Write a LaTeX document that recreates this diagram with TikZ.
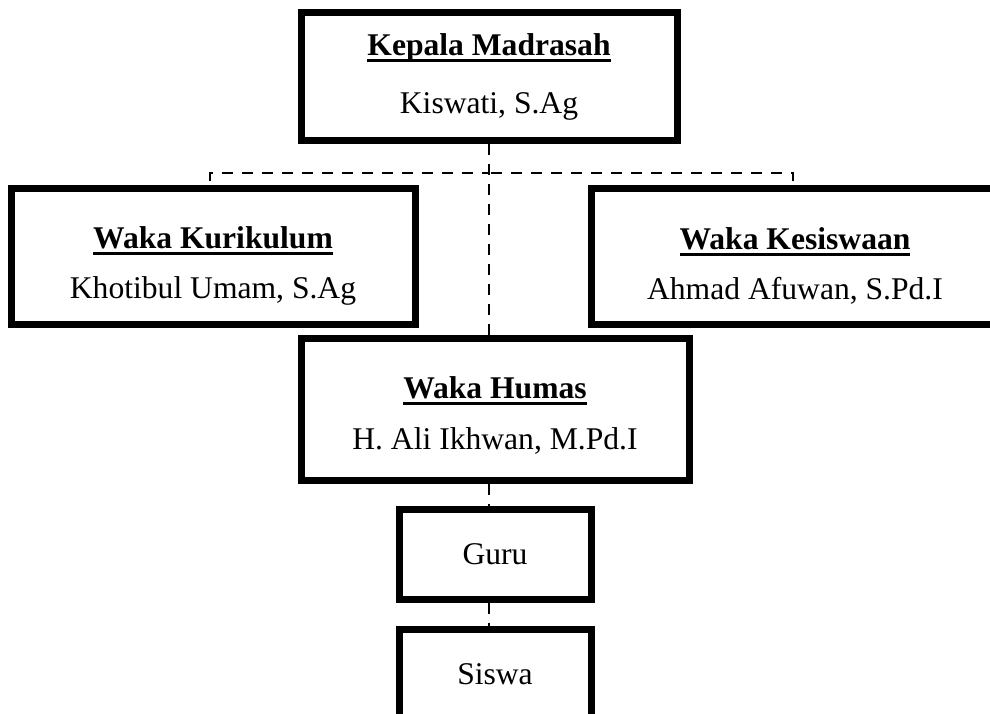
\documentclass[tikz,border=0pt]{standalone}
\usepackage{fontspec}
\setmainfont{Liberation Serif}
\usetikzlibrary{positioning}

\newcommand{\headtext}[1]{\setbox0\hbox{\bfseries #1}\rlap{\rule[-3pt]{\wd0}{1.5pt}}\box0}

\begin{document}
\begin{tikzpicture}[x=0.5pt,y=0.5pt,node distance=11pt,
    unit/.style={draw,line width=3.5pt,fill=white,align=center,
        font=\fontsize{15.8}{19}\selectfont},
    link/.style={line width=1.3pt,dash pattern=on 5.5pt off 4.5pt}]

    \useasboundingbox (0,0) rectangle (990,713);
    \clip (0,0) rectangle (990,713);

    \node[unit,minimum width=188pt,minimum height=64pt] (kepala) at (489,636)
        {\headtext{Kepala Madrasah}\\[10pt] Kiswati, S.Ag};

    \node[unit,minimum width=202pt,minimum height=68pt] (kurikulum) at (213,456)
        {\rule{0pt}{20pt}\headtext{Waka Kurikulum}\\[6pt] Khotibul Umam, S.Ag};

    \node[unit,minimum width=204pt,minimum height=68pt] (kesiswaan) at (795,456)
        {\rule{0pt}{20pt}\headtext{Waka Kesiswaan}\\[6pt] Ahmad Afuwan, S.Pd.I};

    \node[unit,minimum width=194pt,minimum height=70.5pt] (humas) at (495,303.5)
        {\rule{0pt}{17pt}\headtext{Waka Humas}\\[6.5pt] H. Ali Ikhwan, M.Pd.I};

    \node[unit,minimum width=96pt,minimum height=45pt] (guru) [below=of humas] {Guru};

    \node[unit,minimum width=96pt,minimum height=45pt] (siswa) [below=11.5pt of guru] {Siswa};

    % garis komando
    \coordinate (fork) at (kepala.south |- 0,540);
    \draw[link] (kepala.south) -- (kepala.south |- humas.north);
    \draw[link] ([xshift=-1.5pt,yshift=2pt]kurikulum.north) |- (fork);
    \draw[link] ([xshift=-1pt,yshift=2pt]kesiswaan.north) |- (fork);
    \draw[link] (humas.south -| kepala.south) -- (guru.north -| kepala.south);
    \draw[link] (guru.south -| kepala.south) -- (siswa.north -| kepala.south);

\end{tikzpicture}
\end{document}
